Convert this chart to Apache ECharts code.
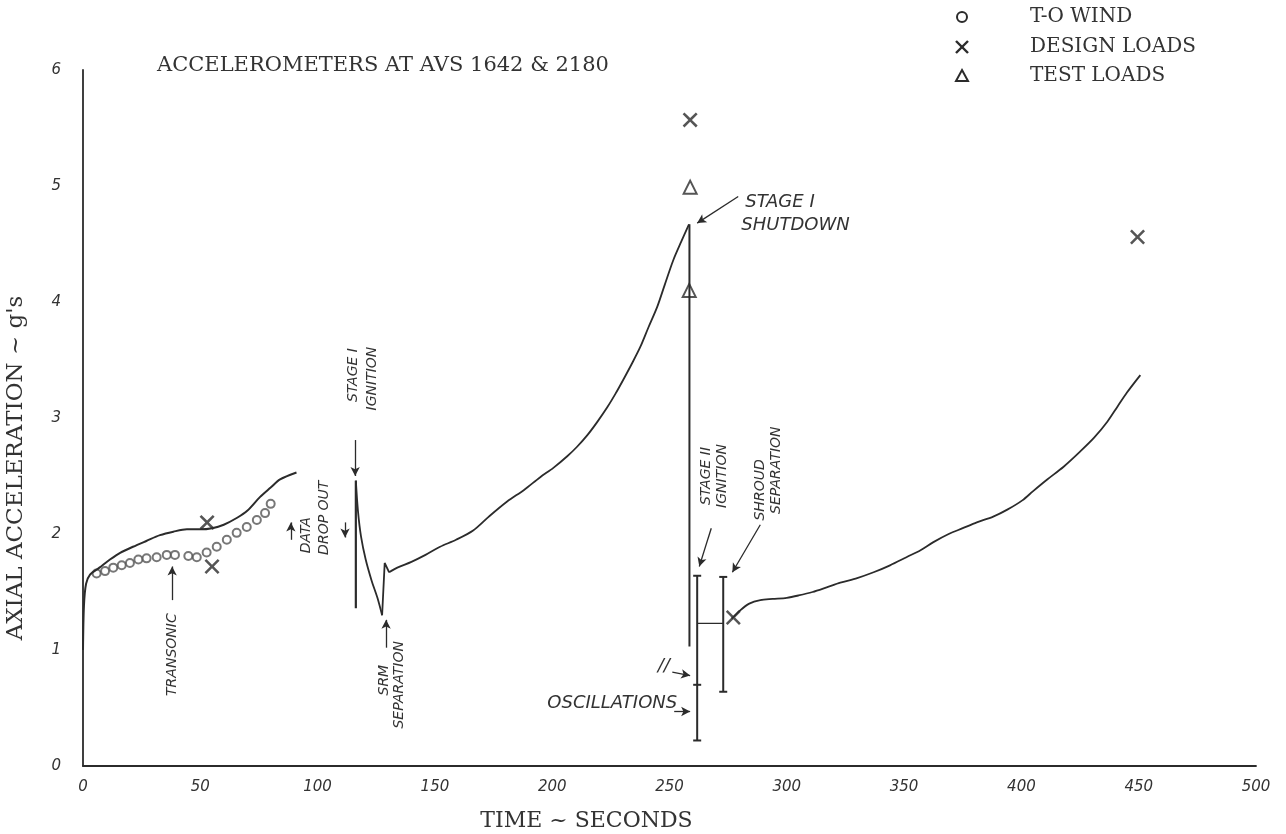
<!DOCTYPE html>
<html>
<head>
<meta charset="utf-8">
<script src="https://cdn.jsdelivr.net/npm/echarts@6/dist/echarts.min.js"></script>
<style>
  html, body { margin: 0; padding: 0; background: #fff; }
  #chart { width: 1286px; height: 834px; }
</style>
</head>
<body>
<div id="chart"></div>
<script>
// values: [time s, axial accel g]
var launchCurve = [[0, 1.0], [0.4, 1.38], [1.3, 1.57], [3, 1.65], [7, 1.71], [11.5, 1.78], [16, 1.84], [21.3, 1.89],
  [27, 1.94], [32.8, 1.99], [38.5, 2.02], [44.3, 2.04], [50, 2.04], [55, 2.05], [60, 2.08], [65.7, 2.14],
  [70, 2.2], [75.5, 2.32], [80, 2.4], [84, 2.47], [91, 2.53]];
var ignitionSpike = [[116.3, 2.46], [116.3, 1.36]];
var srmDecay = [[116.3, 2.46], [117.2, 2.2], [118.5, 1.98], [120.5, 1.78], [123, 1.6], [125.5, 1.45], [127.5, 1.3]];
var srmJump = [[127.5, 1.3], [128.6, 1.75], [130.5, 1.67]];
var boostCurve = [[130.5, 1.67], [134, 1.71], [140, 1.76], [146, 1.82], [152.2, 1.89], [159, 1.95], [166.3, 2.03],
  [173, 2.15], [180.8, 2.28], [188, 2.38], [194.9, 2.49], [200.5, 2.57], [206.4, 2.67], [210.5, 2.75],
  [214.9, 2.85], [219, 2.96], [223.4, 3.09], [227, 3.21], [230.3, 3.33], [234, 3.47], [237.5, 3.61],
  [241, 3.78], [244.8, 3.96], [248, 4.15], [251.6, 4.36], [255, 4.52], [258.3, 4.67]];
var shutdownDrop = [[258.5, 4.67], [258.5, 1.03]];
var oscBarA = [[261.8, 1.64], [261.8, 0.70], [261.8, 0.22]];
var oscBarB = [[272.9, 1.63], [272.9, 0.64]];
var oscLink = [[261.8, 1.23], [272.9, 1.23]];
var stage2Curve = [[276.5, 1.27], [280, 1.34], [284, 1.4], [288.7, 1.43], [294, 1.44], [300, 1.45], [305, 1.47],
  [311, 1.5], [317, 1.54], [322.8, 1.58], [330, 1.62], [337, 1.67], [344, 1.73], [351, 1.8], [357, 1.86],
  [362.5, 1.93], [369, 2.0], [375, 2.05], [381, 2.1], [388, 2.15], [394, 2.21], [400.4, 2.29], [405, 2.37],
  [411, 2.47], [418, 2.58], [425, 2.71], [431, 2.83], [436.7, 2.97], [441, 3.1], [445, 3.22], [450.7, 3.37]];

var toWind = [[5.8, 1.66], [9.4, 1.68], [12.9, 1.71], [16.5, 1.73], [20, 1.75], [23.6, 1.78], [27.1, 1.79],
  [31.4, 1.8], [35.7, 1.82], [39.2, 1.82], [44.9, 1.81], [48.5, 1.8], [52.7, 1.84], [57, 1.89], [61.3, 1.95],
  [65.5, 2.01], [69.8, 2.06], [74.1, 2.12], [77.6, 2.18], [80, 2.26]];
var designLoads = [[52.9, 2.1], [55, 1.72], [258.8, 5.57], [277.2, 1.28], [449.5, 4.56]];
var testLoads = [[258.8, 4.99], [258.4, 4.1]];

var legendNames = ['T-O WIND', 'DESIGN LOADS', 'TEST LOADS'];

// hand lettered notes: [text, time, g]  (rotated ones read bottom to top)
var notes = [
  ['TRANSONIC', 38, 0.96],
  ['DATA', 95, 1.99],
  ['DROP OUT', 103, 2.14],
  ['STAGE I', 115.1, 3.37],
  ['IGNITION', 123.2, 3.34],
  ['SRM', 128.4, 0.74],
  ['SEPARATION', 134.8, 0.70],
  ['STAGE II', 265.8, 2.5],
  ['IGNITION', 272.6, 2.5],
  ['SHROUD', 288.7, 2.38],
  ['SEPARATION', 295.5, 2.55]
];
var flatNotes = [
  ['STAGE I', 282.3, 4.86, 'left'],
  ['SHUTDOWN', 280.6, 4.66, 'left'],
  ['OSCILLATIONS', 225.6, 0.54, 'center'],
  ['//', 247.6, 0.86, 'center']
];
// arrows: from -> to
var arrows = [
  [[38, 1.43], [38, 1.72]],
  [[116, 2.81], [116, 2.5]],
  [[129.2, 1.02], [129.2, 1.26]],
  [[88.6, 1.95], [88.6, 2.1]],
  [[111.7, 2.1], [111.7, 1.97]],
  [[279.3, 4.91], [261.8, 4.68]],
  [[267.8, 2.05], [262.7, 1.72]],
  [[288.7, 2.08], [276.8, 1.67]],
  [[251.2, 0.81], [258.8, 0.78]],
  [[252, 0.47], [258.8, 0.47]]
];

var INK = '#2b2b2b';
var HAND = '"DejaVu Sans", sans-serif';
var TYPE = '"DejaVu Serif", "Liberation Serif", serif';
var X_SYMBOL = 'path://M0,1.2L1.2,0L5,3.8L8.8,0L10,1.2L6.2,5L10,8.8L8.8,10L5,6.2L1.2,10L0,8.8L3.8,5Z';

function trace(data, smooth, width) {
  return {
    type: 'line', data: data, smooth: smooth, showSymbol: false, silent: true,
    lineStyle: { color: INK, width: width || 1.8 }
  };
}
function bar(data) {
  return {
    type: 'line', data: data, symbol: 'rect', symbolSize: [8, 2], showSymbol: true, silent: true,
    itemStyle: { color: INK }, lineStyle: { color: INK, width: 2 }
  };
}

var chart = echarts.init(document.getElementById('chart'));
var option = {
  backgroundColor: '#fff',
  animation: false,
  title: {
    text: 'ACCELEROMETERS AT AVS 1642 & 2180',
    left: 152, top: 50,
    textStyle: { fontFamily: TYPE, fontSize: 21, fontWeight: 'normal', color: '#333' }
  },
  grid: { left: 83, right: 30, top: 70, bottom: 68, outerBoundsMode: 'none' },
  xAxis: {
    type: 'value', min: 0, max: 500, interval: 50,
    name: 'TIME ~ SECONDS', nameLocation: 'middle', nameGap: 44,
    nameTextStyle: { fontFamily: TYPE, fontSize: 22, color: '#333', padding: [0, 166, 0, 0] },
    axisLine: { lineStyle: { color: INK, width: 1.8 } },
    axisTick: { show: false }, splitLine: { show: false },
    axisLabel: { margin: 14, fontFamily: HAND, fontStyle: 'italic', fontSize: 15, color: '#333' }
  },
  yAxis: {
    type: 'value', min: 0, max: 6, interval: 1,
    name: "AXIAL ACCELERATION ~ g's", nameLocation: 'middle', nameGap: 55,
    nameTextStyle: { fontFamily: TYPE, fontSize: 23, color: '#333', padding: [0, 100, 0, 0] },
    axisLine: { show: true, lineStyle: { color: INK, width: 1.8 } },
    axisTick: { show: false }, splitLine: { show: false },
    axisLabel: { margin: 22, fontFamily: HAND, fontStyle: 'italic', fontSize: 15, color: '#333' }
  },
  series: [
    trace(launchCurve, 0.3, 2),
    trace(ignitionSpike, false, 2.2),
    trace(srmDecay, 0.3, 1.8),
    trace(srmJump, false, 1.8),
    trace(boostCurve, 0.3, 1.8),
    trace(shutdownDrop, false, 2),
    bar(oscBarA),
    bar(oscBarB),
    trace(oscLink, false, 1.2),
    trace(stage2Curve, 0.3, 1.8),
    {
      name: legendNames[0], type: 'scatter', data: toWind, symbol: 'emptyCircle', symbolSize: 8,
      itemStyle: { color: '#555', borderWidth: 1.2 }
    },
    {
      name: legendNames[1], type: 'scatter', data: designLoads, symbol: X_SYMBOL, symbolSize: 15,
      itemStyle: { color: INK }
    },
    {
      name: legendNames[2], type: 'scatter', data: testLoads, symbol: 'emptyTriangle', symbolSize: 13,
      itemStyle: { color: INK, borderWidth: 2 }
    },
    {
      type: 'line', data: [], silent: true,
      markLine: {
        silent: true, symbol: ['none', 'arrow'], symbolSize: [7, 9],
        label: { show: false },
        lineStyle: { color: INK, width: 1.3, type: 'solid' },
        data: arrows.map(function (a) { return [{ coord: a[0] }, { coord: a[1] }]; })
      }
    }
  ]
};
chart.setOption(option);

// legend (top right) and lettering, placed with the chart's own scale
var gfx = [];
var legendY = [17, 47, 76];
var legendX = 962;
gfx.push({ type: 'circle', shape: { cx: legendX, cy: legendY[0], r: 5 }, style: { fill: '#fff', stroke: INK, lineWidth: 2 } });
gfx.push({ type: 'line', shape: { x1: legendX - 6, y1: legendY[1] - 6, x2: legendX + 6, y2: legendY[1] + 6 }, style: { stroke: INK, lineWidth: 2.4 } });
gfx.push({ type: 'line', shape: { x1: legendX + 6, y1: legendY[1] - 6, x2: legendX - 6, y2: legendY[1] + 6 }, style: { stroke: INK, lineWidth: 2.4 } });
gfx.push({ type: 'polygon', shape: { points: [[legendX, legendY[2] - 6], [legendX + 6, legendY[2] + 5], [legendX - 6, legendY[2] + 5]] }, style: { fill: '#fff', stroke: INK, lineWidth: 2 } });
legendNames.forEach(function (n, i) {
  gfx.push({ type: 'text', x: 1030, y: legendY[i],
    style: { text: n, font: '20px ' + TYPE, fill: '#333', verticalAlign: 'middle', align: 'left' } });
});
notes.forEach(function (n) {
  var p = chart.convertToPixel({ gridIndex: 0 }, [n[1], n[2]]);
  gfx.push({ type: 'text', x: p[0], y: p[1], rotation: Math.PI / 2,
    style: { text: n[0], font: 'italic 14px ' + HAND, fill: '#333', align: 'center', verticalAlign: 'middle' } });
});
flatNotes.forEach(function (n) {
  var p = chart.convertToPixel({ gridIndex: 0 }, [n[1], n[2]]);
  gfx.push({ type: 'text', x: p[0], y: p[1],
    style: { text: n[0], font: 'italic 18px ' + HAND, fill: '#333', align: n[3], verticalAlign: 'middle' } });
});
chart.setOption({ graphic: gfx });

window.addEventListener('resize', function () { chart.resize(); });
</script>
</body>
</html>
